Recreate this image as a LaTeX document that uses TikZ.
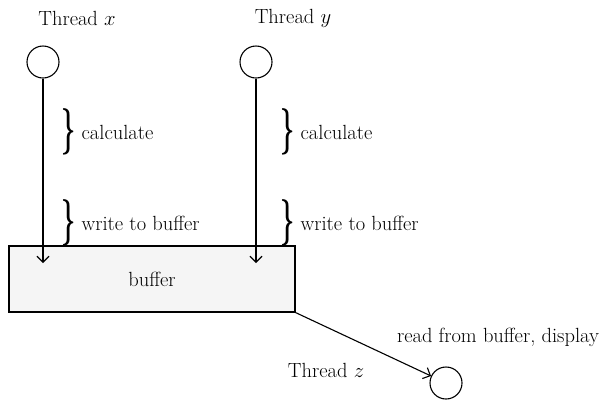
\documentclass[tikz,border=0pt]{standalone}
\usepackage{amsmath, amssymb}
\usepackage{graphicx}
\usepackage{tikz}
\usetikzlibrary{positioning, calc, arrows.meta}

\newcommand{\tallbrace}{\raisebox{-0.5ex}{\scalebox{1.2}[2.25]{\boldmath$\}$}}}

\tikzset{
    thread/.style={draw, circle, minimum size=32bp, inner sep=0pt, line width=1.1bp},
    bufferbox/.style={draw, fill=black!4, minimum width=286bp, minimum height=66bp, line width=1.1bp},
    flow/.style={-{Straight Barb[length=6bp, width=12bp]}, line width=1.1bp},
    task/.style={anchor=west, inner sep=0pt},
}

\begin{document}
\begin{tikzpicture}[x=1bp, y=-1bp, font=\fontsize{20.5bp}{24bp}\selectfont]

        \useasboundingbox (0, 0) rectangle (605, 400);

        % threads
        \node[thread] (tx) at (43, 62) {};
        \node[thread] (ty) at (256, 62) {};
        \node[thread] (tz) at (446, 383) {};

        \node (lx) at (77, 18) {Thread $x$};
        \node (ly) at (293, 18) {Thread $y$};
        \node (lz) at (326, 370) {Thread $z$};
        \node (lread) at (498, 337) {read from buffer, display};

        \node[bufferbox] (buf) at (152, 279) {buffer};

        \coordinate (ax) at (43, 263);
        \coordinate (ay) at (256, 263);

        \draw[flow] (tx) -- (ax);
        \draw[flow] (ty) -- (ay);
        \draw[flow] (buf.south east) -- (tz);

        % braces
        \node[task] (cx) at (61, 132) {\tallbrace\ calculate};
        \node[task] (wx) at (61, 223) {\tallbrace\ write to buffer};
        \node[task] (cy) at (280, 132) {\tallbrace\ calculate};
        \node[task] (wy) at (280, 223) {\tallbrace\ write to buffer};

\end{tikzpicture}
\end{document}
